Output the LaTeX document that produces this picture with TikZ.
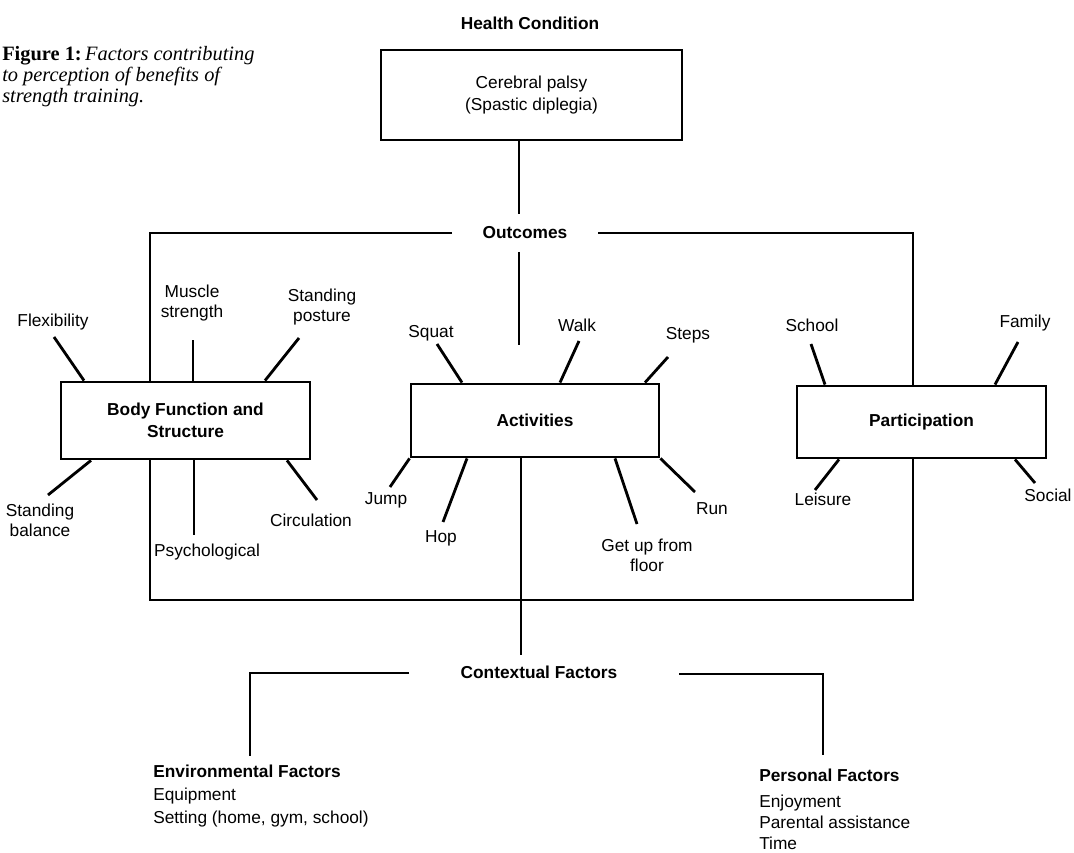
\documentclass[tikz,border=0pt]{standalone}
\usepackage{fontspec}
\setmainfont{Liberation Sans}
\newfontfamily\captionserif{Liberation Serif}
\usepackage{tikz}
\usetikzlibrary{calc,positioning}

\newcommand{\diagsize}{\fontsize{12.3}{14.2}\selectfont}
\newcommand{\boxsize}{\fontsize{12.3}{15.6}\selectfont}

\begin{document}
\begin{tikzpicture}[
  x=0.025cm,y=-0.025cm,
  line/.style={line width=2pt},
  spoke/.style={line width=2pt},
  box/.style={draw,line width=2pt,fill=white,align=center,inner sep=0pt,font=\boxsize\bfseries},
  lbl/.style={align=center,inner sep=0pt,font=\diagsize},
  head/.style={lbl,font=\diagsize\bfseries},
]
\fill[white] (0,0) rectangle (1074,853);
\useasboundingbox (0,0) rectangle (1074,853);

\node[anchor=west,align=left,inner sep=0pt,font=\captionserif\fontsize{14.5}{14.9}\selectfont] (cap) at (2,77)
  {\textbf{Figure 1:}\,\textit{Factors contributing}\\\textit{to perception of benefits of}\\\textit{strength training.}};

% outcomes frame, drawn first so the boxes cover it
\draw[line] (452,233) -| (150,600) -| (913,233) -- (598,233);

\node[head] (hch) at (530,23) {Health Condition};
\node[box,font=\boxsize,minimum width=7.525cm,minimum height=2.25cm] (hc) at (531.5,95) {Cerebral palsy\\(Spastic diplegia)};
\node[head] (outc) at (525,233) {Outcomes};
\node[box,minimum width=6.225cm,minimum height=1.925cm] (body) at (185.5,420.5) {Body Function and\\Structure};
\node[box,minimum width=6.2cm,minimum height=1.825cm] (act) at (535,420.5) {Activities};
\node[box,minimum width=6.225cm,minimum height=1.8cm] (part) at (921.5,422) {Participation};
\node[head] (ctx) at (539,672) {Contextual Factors};

\draw[line] (hc.south -| 519,0) -- (519,214);
\draw[line] (519,252) -- (519,345);
\draw[line] (act.south -| 521,0) -- (521,655);
\draw[line] (409,673) -| (250,756);
\draw[line] (679,674) -| (823,755);

% body function and structure
\node[lbl] (flex) at (53,322) {Flexibility};
\node[lbl] (musc) at (192,303) {Muscle\\strength};
\node[lbl] (post) at (322,307) {Standing\\posture};
\node[lbl] (bal) at (40,520) {Standing\\balance};
\node[lbl] (psych) at (207,552) {Psychological};
\node[lbl] (circ) at (311,520) {Circulation};
\draw[spoke] (84,0 |- body.north) -- (54,337);
\draw[spoke] (193,0 |- body.north) -- (193,340);
\draw[spoke] (265,0 |- body.north) -- (299,338);
\draw[spoke] (91,0 |- body.south) -- (48,495);
\draw[spoke] (194,0 |- body.south) -- (194,535);
\draw[spoke] (287,0 |- body.south) -- (317,500);

% activities
\node[lbl] (squat) at (431,333) {Squat};
\node[lbl] (walk) at (577,325) {Walk};
\node[lbl] (steps) at (688,335) {Steps};
\node[lbl] (jump) at (386,500) {Jump};
\node[lbl] (hop) at (441,538) {Hop};
\node[lbl] (getup) at (647,555) {Get up from\\floor};
\node[lbl] (run) at (712,509) {Run};
\draw[spoke] (462,0 |- act.north) -- (437,344);
\draw[spoke] (560,0 |- act.north) -- (579,341);
\draw[spoke] (645,0 |- act.north) -- (668,357);
\draw[spoke] (act.south west) -- (390,487);
\draw[spoke] (467,0 |- act.south) -- (443,522);
\draw[spoke] (615,0 |- act.south) -- (637,524);
\draw[spoke] (act.south east) -- (695,492);

% participation
\node[lbl] (school) at (812,325) {School};
\node[lbl] (family) at (1025,323) {Family};
\node[lbl] (leis) at (823,499) {Leisure};
\node[lbl] (social) at (1048,495) {Social};
\draw[spoke] (825,0 |- part.north) -- (811,344);
\draw[spoke] (995,0 |- part.north) -- (1018,342);
\draw[spoke] (839,0 |- part.south) -- (815,490);
\draw[spoke] (1015,0 |- part.south) -- (1035,483);

% contextual factors
\node[lbl,anchor=north west,align=left,font=\fontsize{12.3}{16.3}\selectfont] (env) at (153,765)
  {\textbf{Environmental Factors}\\Equipment\\Setting (home, gym, school)};
\node[lbl,anchor=north west,align=left,font=\fontsize{12.3}{14.6}\selectfont] (pers) at (759,769)
  {\textbf{Personal Factors}\\[4pt]Enjoyment\\Parental assistance\\Time};
\end{tikzpicture}
\end{document}
